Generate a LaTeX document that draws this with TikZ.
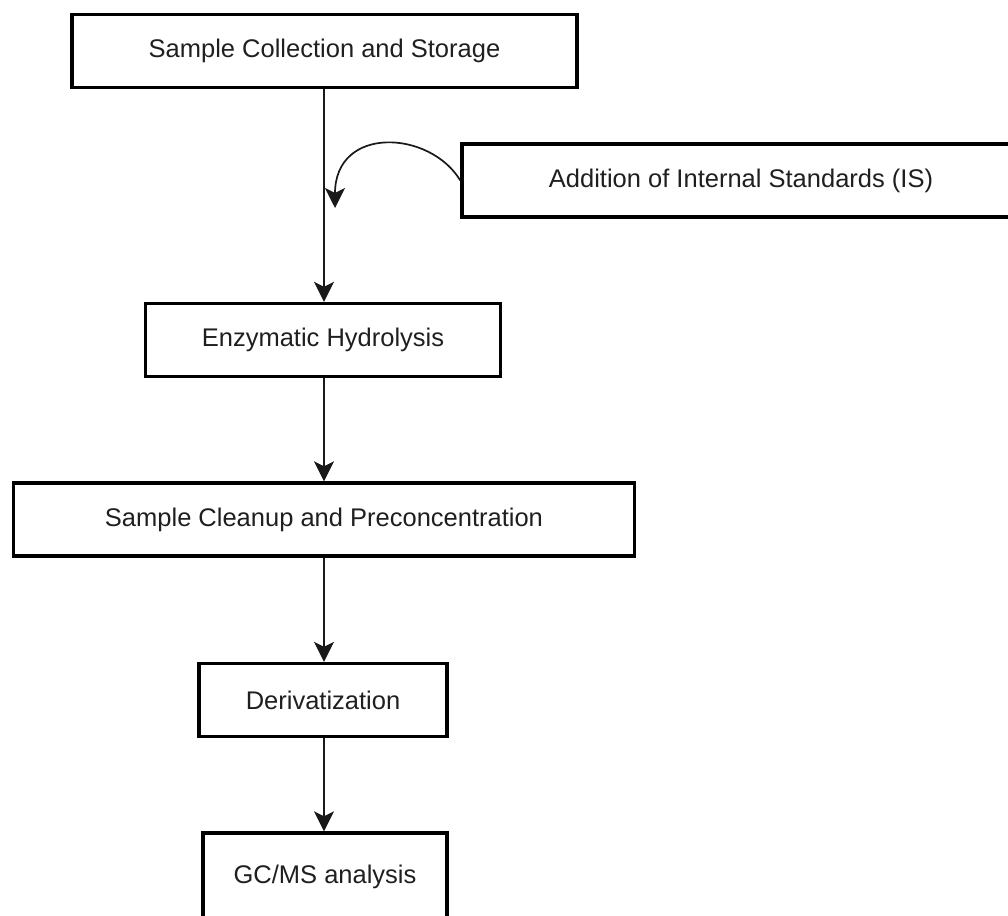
\documentclass[tikz,border=0pt]{standalone}
\usepackage{fontspec}
\setmainfont{Liberation Sans}
\usetikzlibrary{positioning,arrows.meta}

\begin{document}
\begin{tikzpicture}[x=1pt, y=-1pt, >={Stealth[length=20pt, width=20pt, inset=5pt]},
  every node/.style={font=\fontsize{25.5}{30}\selectfont, text=black!88},
  box/.style={draw, line width=3.4pt, inner sep=0pt, minimum height=73pt},
  flow/.style={->, line width=1.7pt, black!90}]
  \useasboundingbox (0,0) rectangle (1008,915);
  \clip (0,0) rectangle (1008,915);
  \node[box, minimum width=505pt] (collect) at (324.5,51) {Sample Collection and Storage};
  \node[box, minimum width=558pt] (addis) at (741,180.5) {Addition of Internal Standards (IS)};
  \node[box, minimum width=355pt] (hydro) at (323,340) {Enzymatic Hydrolysis};
  \node[box, minimum width=621pt] (cleanup) at (324,519.5) {Sample Cleanup and Preconcentration};
  \node[box, minimum width=248pt] (deriv) at (323,700) {Derivatization};
  \node[box, minimum width=244pt, minimum height=88pt] (gcms) at (325,877) {GC/MS analysis};
  \coordinate (isin) at (335,208);
  \draw[flow] (collect.south -| 324,0) -- (hydro.north -| 324,0);
  \draw[flow] (addis.west) .. controls (430,130) and (335,125) .. (isin);
  \draw[flow] (hydro.south -| 324,0) -- (cleanup.north -| 324,0);
  \draw[flow] (cleanup.south -| 324,0) -- (deriv.north -| 324,0);
  \draw[flow] (deriv.south -| 324,0) -- (gcms.north -| 324,0);
\end{tikzpicture}
\end{document}
